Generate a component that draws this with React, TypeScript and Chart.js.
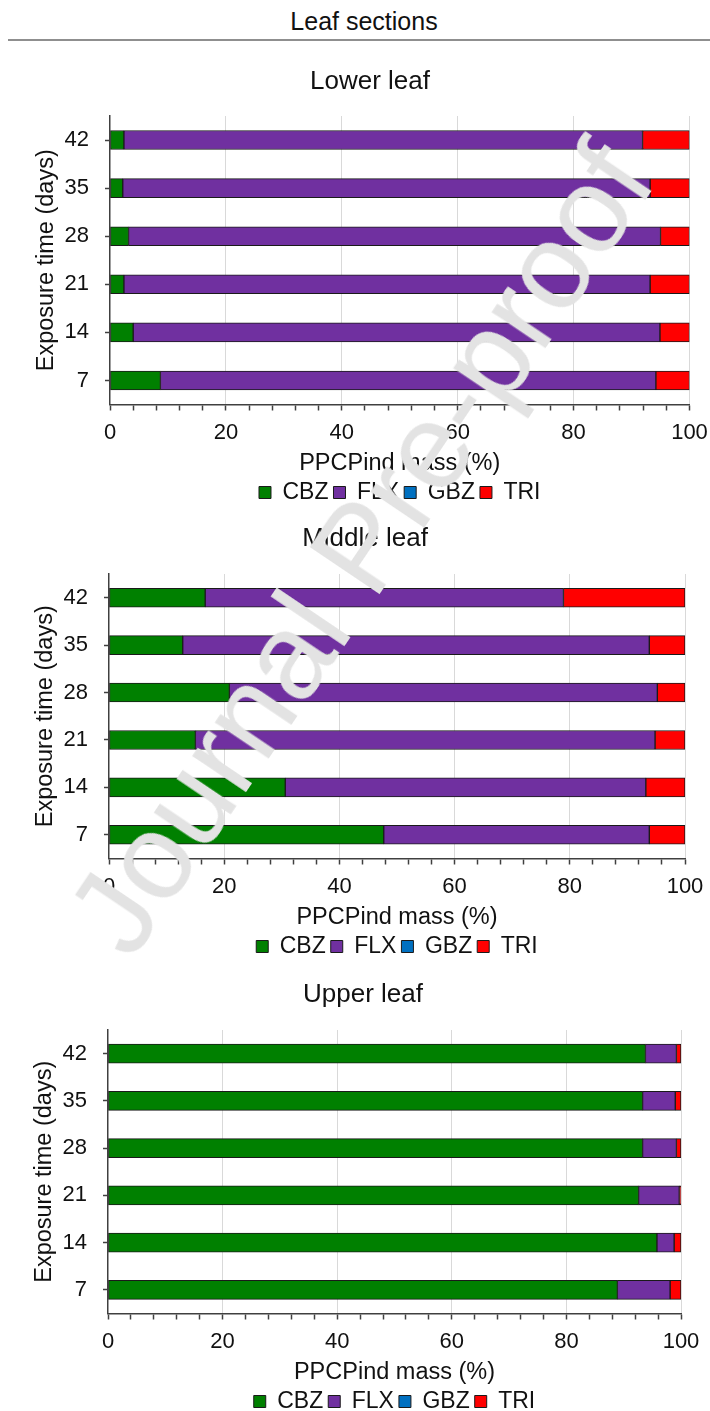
import React, { useEffect, useRef } from 'react';
import { Chart, registerables } from 'chart.js';

Chart.register(...registerables);

// ---------- data ----------
const categories = ['7', '14', '21', '28', '35', '42'];
const seriesNames = ['CBZ', 'FLX', 'GBZ', 'TRI'];
const seriesColors = ['#008000', '#7030a0', '#0070c0', '#ff0000'];
const xTickLabels = [0, 20, 40, 60, 80, 100];

const lowerCBZ = [8.7, 4.0, 2.4, 3.2, 2.2, 2.4];
const lowerFLX = [85.5, 90.9, 90.8, 91.8, 91.0, 89.5];
const lowerGBZ = [0, 0, 0, 0, 0, 0];
const lowerTRI = [5.8, 5.1, 6.8, 5.0, 6.8, 8.1];

const middleCBZ = [47.7, 30.6, 15.0, 20.9, 12.8, 16.7];
const middleFLX = [46.1, 62.6, 79.8, 74.3, 81.0, 62.2];
const middleGBZ = [0, 0, 0, 0, 0, 0];
const middleTRI = [6.2, 6.8, 5.2, 4.8, 6.2, 21.1];

const upperCBZ = [88.9, 95.8, 92.6, 93.3, 93.3, 93.8];
const upperFLX = [9.2, 3.0, 7.1, 5.9, 5.7, 5.4];
const upperGBZ = [0, 0, 0, 0, 0, 0];
const upperTRI = [1.9, 1.2, 0.3, 0.8, 1.0, 0.8];

const panelTitles = ['Lower leaf', 'Middle leaf', 'Upper leaf'];
const xTitle = 'PPCPind mass (%)';
const yTitle = 'Exposure time (days)';
const headerText = 'Leaf sections';
const watermarkText = 'Journal Pre-proof';

// ---------- layout ----------
const FONT = '"Liberation Sans", Arial, Helvetica, sans-serif';
const TEXT = '#111111';
const AXIS = '#404040';
const Y_AXIS_WIDTH = 81.7;
const X_AXIS_HEIGHT = 71.5;

const panels = [
  { title: panelTitles[0], values: [lowerCBZ, lowerFLX, lowerGBZ, lowerTRI], top: 52, height: 462, titlePadBottom: 18.4, padLeft: 28.3, padRight: 20.5, titleCenter: 370 },
  { title: panelTitles[1], values: [middleCBZ, middleFLX, middleGBZ, middleTRI], top: 509, height: 459, titlePadBottom: 19.4, padLeft: 27.3, padRight: 25, titleCenter: 365 },
  { title: panelTitles[2], values: [upperCBZ, upperFLX, upperGBZ, upperTRI], top: 965, height: 458, titlePadBottom: 19.4, padLeft: 26.3, padRight: 29, titleCenter: 363 },
];

type Panel = typeof panels[number];

function makeAlignPlugin(titleCenter: number) {
  return {
    id: 'alignBlocks',
    afterLayout(chart: any) {
      const ca = chart.chartArea;
      const lg = chart.legend;
      if (lg && ca) {
        lg.left = ca.left;
        lg.right = ca.right;
        lg.width = ca.right - ca.left;
      }
      const tb = chart.titleBlock;
      if (tb) {
        const shift = titleCenter - (tb.left + tb.right) / 2;
        tb.left += shift;
        tb.right += shift;
      }
    },
  };
}

function PanelChart({ panel }: { panel: Panel }) {
  const ref = useRef<HTMLCanvasElement | null>(null);
  useEffect(() => {
    if (!ref.current) return;
    const chart = new Chart(ref.current, {
      type: 'bar',
      data: {
        labels: categories,
        datasets: seriesNames.map((name, i) => ({
          label: name,
          data: panel.values[i],
          backgroundColor: seriesColors[i],
          borderColor: '#1a1a1a',
          borderWidth: 1,
          borderSkipped: false,
          barThickness: 19,
        })),
      },
      options: {
        indexAxis: 'y',
        responsive: false,
        animation: false,
        devicePixelRatio: 1,
        layout: { padding: { left: panel.padLeft, right: panel.padRight, top: 0, bottom: 0 } },
        scales: {
          x: {
            stacked: true,
            min: 0,
            max: 100,
            afterFit: (scale: any) => {
              scale.height = X_AXIS_HEIGHT;
              scale.paddingLeft = 0;
              scale.paddingRight = 0;
            },
            ticks: {
              stepSize: 4,
              autoSkip: false,
              maxRotation: 0,
              minRotation: 0,
              padding: 9,
              color: TEXT,
              font: { family: FONT, size: 22, lineHeight: 1.2 },
              callback: (v: any) => (xTickLabels.includes(Number(v)) ? String(v) : ''),
            },
            grid: {
              color: (ctx: any) =>
                ctx.tick && ctx.tick.value % 20 === 0 && ctx.tick.value !== 0 ? '#d9d9d9' : 'rgba(0,0,0,0)',
              lineWidth: 1,
              tickColor: AXIS,
              tickLength: 6,
              tickWidth: 1.5,
            },
            border: { color: AXIS, width: 1.5 },
            title: {
              display: true,
              text: xTitle,
              color: TEXT,
              font: { family: FONT, size: 23.5, lineHeight: 1.0 },
              padding: { top: 4, bottom: 0.75 },
            },
          },
          y: {
            stacked: true,
            reverse: true,
            offset: true,
            afterFit: (scale: any) => {
              scale.width = Y_AXIS_WIDTH;
              scale.paddingTop = 0;
              scale.paddingBottom = 0;
            },
            ticks: {
              padding: 16,
              color: TEXT,
              font: { family: FONT, size: 22 },
            },
            grid: {
              drawOnChartArea: false,
              offset: false,
              tickLength: 5,
              tickColor: AXIS,
              tickWidth: 1.5,
            },
            border: { color: AXIS, width: 1.5 },
            title: {
              display: true,
              text: yTitle,
              color: TEXT,
              font: { family: FONT, size: 23.5, lineHeight: 1.2 },
              padding: { top: 4, bottom: 4 },
            },
          },
        },
        plugins: {
          tooltip: { enabled: false },
          title: {
            display: true,
            text: panel.title,
            color: TEXT,
            font: { family: FONT, size: 26, weight: 'normal', lineHeight: 1.2 },
            padding: { top: 14.4, bottom: panel.titlePadBottom },
          },
          legend: {
            position: 'bottom',
            labels: {
              boxWidth: 12,
              boxHeight: 12,
              padding: 5,
              color: TEXT,
              font: { family: FONT, size: 23 },
            },
          },
        },
      } as any,
      plugins: [makeAlignPlugin(panel.titleCenter)],
    });
    return () => chart.destroy();
  }, [panel]);
  return (
    <canvas
      ref={ref}
      width={710}
      height={panel.height}
      style={{ position: 'absolute', left: 0, top: panel.top, width: 710, height: panel.height }}
    />
  );
}

export default function App() {
  return (
    <div
      style={{
        position: 'absolute',
        left: 0,
        top: 0,
        width: 710,
        height: 1411,
        overflow: 'hidden',
        background: '#ffffff',
        fontFamily: FONT,
      }}
    >
      <div
        style={{
          position: 'absolute',
          left: 0,
          width: 728,
          top: 6,
          textAlign: 'center',
          fontSize: 25,
          lineHeight: '30px',
          color: TEXT,
        }}
      >
        {headerText}
      </div>
      <div style={{ position: 'absolute', left: 8, top: 39, width: 702, height: 2, background: '#8f8f8f' }} />
      {panels.map((p) => (
        <PanelChart key={p.title} panel={p} />
      ))}
      <div
        style={{
          position: 'absolute',
          left: 360,
          top: 548,
          transform: 'translate(-50%, -50%) rotate(-56deg)',
          fontSize: 122,
          lineHeight: 1,
          color: '#e3e3e3',
          whiteSpace: 'nowrap',
          pointerEvents: 'none',
          fontFamily: FONT,
        }}
      >
        {watermarkText}
      </div>
    </div>
  );
}
